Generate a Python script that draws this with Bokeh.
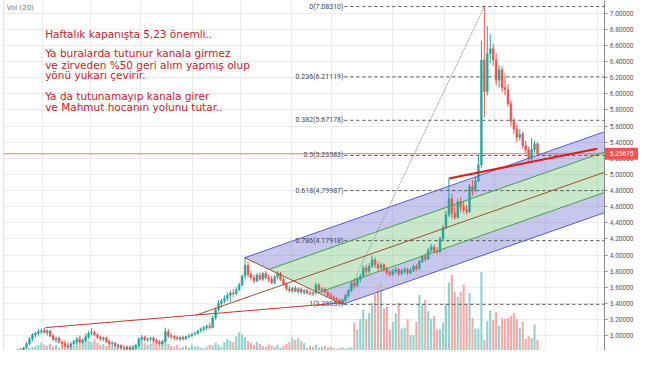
from bokeh.plotting import figure
from bokeh.models import Range1d, FixedTicker, Grid, PrintfTickFormatter, ColumnDataSource
from bokeh.core.properties import value
from bokeh.embed import file_html
from bokeh.resources import INLINE

# ---- weekly USD/TRY candles ----
opens = [2.68, 2.70, 2.72, 2.77, 2.78, 2.82, 2.80, 2.85, 2.90, 2.96,
         3.01, 3.03, 3.05, 3.06, 3.04, 3.06, 3.00, 2.95, 2.97, 2.92,
         2.90, 2.88, 2.86, 2.90, 2.93, 2.95, 2.92, 2.94, 2.98, 3.03,
         3.04, 3.01, 2.98, 2.96, 2.97, 2.93, 2.90, 2.91, 2.87, 2.88,
         2.85, 2.84, 2.86, 2.83, 2.85, 2.88, 2.96, 2.98, 2.95, 2.96,
         2.97, 2.94, 2.92, 2.90, 2.93, 3.05, 3.00, 2.99, 2.97, 2.96,
         2.98, 2.96, 2.99, 3.00, 3.02, 3.03, 3.06, 3.08, 3.10, 3.12,
         3.10, 3.22, 3.32, 3.40, 3.43, 3.46, 3.50, 3.53, 3.52, 3.57,
         3.63, 3.74, 3.87, 3.76, 3.72, 3.68, 3.75, 3.70, 3.77, 3.72,
         3.70, 3.66, 3.73, 3.77, 3.70, 3.64, 3.58, 3.56, 3.59, 3.55,
         3.58, 3.54, 3.56, 3.53, 3.52, 3.53, 3.63, 3.57, 3.58, 3.54,
         3.50, 3.48, 3.46, 3.44, 3.41, 3.44, 3.50, 3.56, 3.65, 3.62,
         3.70, 3.74, 3.84, 3.80, 3.86, 3.94, 3.88, 3.84, 3.88, 3.82,
         3.78, 3.76, 3.80, 3.82, 3.77, 3.80, 3.82, 3.78, 3.81, 3.86,
         3.83, 3.92, 3.98, 3.95, 4.06, 4.10, 4.05, 4.04, 4.20, 4.34,
         4.50, 4.70, 4.52, 4.47, 4.66, 4.60, 4.56, 4.54, 4.85, 4.80,
         4.92, 5.12, 6.42, 6.03, 6.50, 6.56, 6.42, 6.17, 6.30, 6.08,
         6.05, 5.88, 5.66, 5.56, 5.46, 5.50, 5.36, 5.30, 5.20, 5.31,
         5.38]
highs = [2.72, 2.74, 2.78, 2.80, 2.84, 2.85, 2.86, 2.92, 2.98, 3.03,
         3.05, 3.08, 3.09, 3.10, 3.08, 3.07, 3.02, 2.99, 2.99, 2.95,
         2.94, 2.92, 2.92, 2.95, 2.97, 2.98, 2.96, 3.00, 3.06, 3.09,
         3.06, 3.03, 3.00, 2.99, 2.99, 2.95, 2.93, 2.92, 2.90, 2.89,
         2.88, 2.87, 2.88, 2.87, 2.90, 2.98, 3.01, 3.00, 2.98, 2.99,
         2.99, 2.96, 2.95, 2.95, 3.10, 3.08, 3.03, 3.01, 3.00, 2.99,
         3.00, 3.00, 3.02, 3.03, 3.05, 3.07, 3.10, 3.12, 3.14, 3.16,
         3.25, 3.35, 3.44, 3.46, 3.50, 3.54, 3.56, 3.58, 3.60, 3.66,
         3.76, 3.97, 3.92, 3.80, 3.76, 3.78, 3.78, 3.79, 3.80, 3.76,
         3.74, 3.75, 3.80, 3.79, 3.73, 3.66, 3.62, 3.61, 3.62, 3.60,
         3.60, 3.58, 3.58, 3.56, 3.55, 3.66, 3.65, 3.60, 3.60, 3.56,
         3.53, 3.50, 3.48, 3.46, 3.46, 3.52, 3.58, 3.67, 3.70, 3.73,
         3.77, 3.87, 3.88, 3.90, 3.99, 3.97, 3.92, 3.91, 3.90, 3.85,
         3.81, 3.83, 3.85, 3.84, 3.83, 3.85, 3.84, 3.84, 3.88, 3.89,
         3.94, 4.00, 4.02, 4.09, 4.14, 4.13, 4.10, 4.23, 4.37, 4.55,
         4.95, 4.76, 4.62, 4.70, 4.72, 4.66, 4.62, 4.88, 4.93, 4.97,
         5.25, 6.66, 7.0831, 6.84, 6.74, 6.62, 6.50, 6.36, 6.34, 6.25,
         6.12, 5.92, 5.70, 5.62, 5.56, 5.53, 5.42, 5.34, 5.45, 5.42,
         5.40]
lows = [2.66, 2.68, 2.71, 2.74, 2.77, 2.78, 2.79, 2.84, 2.88, 2.93,
        2.97, 3.00, 3.02, 3.03, 3.00, 2.98, 2.93, 2.91, 2.90, 2.86,
        2.85, 2.84, 2.83, 2.88, 2.90, 2.91, 2.89, 2.92, 2.96, 3.00,
        2.99, 2.96, 2.94, 2.93, 2.91, 2.88, 2.86, 2.85, 2.84, 2.83,
        2.82, 2.82, 2.82, 2.81, 2.83, 2.86, 2.94, 2.93, 2.92, 2.93,
        2.92, 2.90, 2.88, 2.88, 2.92, 2.97, 2.96, 2.95, 2.94, 2.93,
        2.94, 2.95, 2.97, 2.98, 3.00, 3.01, 3.04, 3.05, 3.07, 3.08,
        3.09, 3.20, 3.30, 3.35, 3.40, 3.44, 3.42, 3.48, 3.50, 3.55,
        3.61, 3.70, 3.72, 3.68, 3.65, 3.66, 3.68, 3.68, 3.70, 3.66,
        3.64, 3.64, 3.70, 3.68, 3.62, 3.56, 3.54, 3.53, 3.54, 3.52,
        3.52, 3.51, 3.51, 3.50, 3.49, 3.51, 3.55, 3.54, 3.52, 3.48,
        3.46, 3.44, 3.42, 3.39, 3.3886, 3.42, 3.47, 3.54, 3.58, 3.60,
        3.66, 3.72, 3.76, 3.77, 3.84, 3.84, 3.80, 3.81, 3.79, 3.75,
        3.73, 3.74, 3.77, 3.74, 3.75, 3.77, 3.75, 3.76, 3.79, 3.80,
        3.82, 3.90, 3.92, 3.94, 4.03, 4.02, 4.01, 4.03, 4.18, 4.32,
        4.47, 4.45, 4.44, 4.45, 4.53, 4.52, 4.50, 4.52, 4.74, 4.78,
        4.90, 5.08, 5.71, 5.98, 6.38, 6.35, 6.10, 6.08, 6.02, 5.98,
        5.84, 5.60, 5.50, 5.40, 5.42, 5.32, 5.26, 5.14, 5.16, 5.27,
        5.23]
closes = [2.70, 2.72, 2.77, 2.78, 2.82, 2.80, 2.85, 2.90, 2.96, 3.01,
          3.03, 3.05, 3.06, 3.04, 3.06, 3.00, 2.95, 2.97, 2.92, 2.90,
          2.88, 2.86, 2.90, 2.93, 2.95, 2.92, 2.94, 2.98, 3.03, 3.04,
          3.01, 2.98, 2.96, 2.97, 2.93, 2.90, 2.91, 2.87, 2.88, 2.85,
          2.84, 2.86, 2.83, 2.85, 2.88, 2.96, 2.98, 2.95, 2.96, 2.97,
          2.94, 2.92, 2.90, 2.93, 3.05, 3.00, 2.99, 2.97, 2.96, 2.98,
          2.96, 2.99, 3.00, 3.02, 3.03, 3.06, 3.08, 3.10, 3.12, 3.10,
          3.22, 3.32, 3.40, 3.43, 3.46, 3.50, 3.53, 3.52, 3.57, 3.63,
          3.74, 3.87, 3.76, 3.72, 3.68, 3.75, 3.70, 3.77, 3.72, 3.70,
          3.66, 3.73, 3.77, 3.70, 3.64, 3.58, 3.56, 3.59, 3.55, 3.58,
          3.54, 3.56, 3.53, 3.52, 3.53, 3.63, 3.57, 3.58, 3.54, 3.50,
          3.48, 3.46, 3.44, 3.41, 3.44, 3.50, 3.56, 3.65, 3.62, 3.70,
          3.74, 3.84, 3.80, 3.86, 3.94, 3.88, 3.84, 3.88, 3.82, 3.78,
          3.76, 3.80, 3.82, 3.77, 3.80, 3.82, 3.78, 3.81, 3.86, 3.83,
          3.92, 3.98, 3.95, 4.06, 4.10, 4.05, 4.04, 4.20, 4.34, 4.50,
          4.70, 4.52, 4.47, 4.66, 4.60, 4.56, 4.54, 4.85, 4.80, 4.92,
          5.12, 6.42, 6.03, 6.50, 6.56, 6.42, 6.17, 6.30, 6.08, 6.05,
          5.88, 5.66, 5.56, 5.46, 5.50, 5.36, 5.30, 5.20, 5.31, 5.38,
          5.25675]
volumes = [40, 40, 40, 40, 40, 40, 40, 42, 43, 44,
           45, 46, 48, 46, 45, 47, 44, 46, 43, 45,
           48, 44, 43, 45, 54, 56, 52, 58, 50, 49,
           52, 48, 46, 47, 45, 46, 44, 43, 46, 45,
           44, 45, 43, 46, 45, 49, 52, 48, 46, 47,
           50, 48, 46, 49, 52, 47, 45, 44, 46, 43,
           44, 45, 43, 46, 44, 45, 43, 42, 44, 46,
           45, 48, 46, 44, 49, 52, 50, 49, 55, 59,
           57, 54, 50, 48, 46, 49, 47, 45, 44, 46,
           45, 44, 46, 43, 45, 47, 49, 53, 51, 53,
           50, 48, 43, 45, 44, 46, 43, 44, 45, 43,
           44, 43, 42, 43, 43, 42, 43, 43, 69, 62,
           73, 83, 73, 79, 90, 99, 109, 112, 84, 86,
           62, 70, 79, 90, 63, 64, 73, 56, 56, 70,
           98, 88, 93, 81, 73, 76, 62, 62, 69, 89,
           111, 119, 101, 96, 101, 109, 89, 100, 74, 63,
           63, 122, 51, 71, 82, 72, 80, 66, 74, 73,
           74, 76, 79, 73, 64, 70, 52, 55, 53, 67,
           51]
last_price = 5.25675

# axis ticks
price_ticks = [2.8, 3.0, 3.2, 3.4, 3.6, 3.8, 4.0, 4.2, 4.4, 4.6, 4.8,
               5.0, 5.2, 5.4, 5.6, 5.8, 6.0, 6.2, 6.4, 6.6, 6.8, 7.0]
time_grid = [12.3, 28.7, 45.7, 63.1, 79.5, 96.6, 110.3, 131.0, 148.4, 165.4, 182.8, 200.2]

# Fibonacci retracement (low -> high)
fib_ratio = ["0", "0.236", "0.382", "0.5", "0.618", "0.786", "1"]
fib_price = [7.08310, 6.21119, 5.67178, 5.23583, 4.79987, 4.17918, 3.38855]
fib_anchor_i = [114.0, 162.0]
fib_anchor_p = [3.38855, 7.08310]

# Andrews pitchfork anchors A, B, C (bar index, price)
pf_i = [64.43, 80.82, 114.0]
pf_p = [3.255, 3.967, 3.3886]

# trend lines
tl_i = [13.5, 114.6]
tl_p = [3.10, 3.41]
rl_i = [150.0, 200.2]
rl_p = [4.951, 5.32]

notes = ["Haftalık kapanışta 5,23 önemli..",
         "Ya buralarda tutunur kanala girmez",
         "ve zirveden %50 geri alım yapmış olup",
         "yönü yukarı çevirir.",
         "Ya da tutunamayıp kanala girer",
         "ve Mahmut hocanın yolunu tutar.."]
notes_i = [13.3] * 6
notes_p = [6.743, 6.505, 6.363, 6.232, 5.972, 5.841]

UP = "#26a69a"
DOWN = "#ef5350"
UP_V = "#93d2cc"
DOWN_V = "#f7a9a8"

X0 = -0.8     # left edge of the chart
XR = 202.8    # price-scale line (right edge of chart area)
XE = 214.2    # right edge of canvas (price-scale labels live between XR and XE)

p = figure(width=638, height=350, x_range=Range1d(X0, XE), y_range=Range1d(2.816, 7.158),
           output_backend="svg", toolbar_location=None,
           x_axis_location=None, y_axis_location="right",
           min_border_left=3, min_border_right=0, min_border_top=0, min_border_bottom=0)
p.extra_y_ranges = {"vol": Range1d(40, 406)}
p.outline_line_color = None
p.background_fill_color = "white"
for g in p.grid:
    g.visible = False
p.add_layout(Grid(dimension=0, ticker=FixedTicker(ticks=time_grid), grid_line_color="#ececec"))
p.add_layout(Grid(dimension=1, ticker=FixedTicker(ticks=price_ticks), grid_line_color="#ececec"))

ax = p.yaxis[0]
ax.fixed_location = XR
ax.ticker = FixedTicker(ticks=price_ticks)
ax.formatter = PrintfTickFormatter(format="%.5f")
ax.major_label_text_font_size = "6.5px"
ax.major_label_text_font = "Roboto"
ax.major_label_text_color = "#555555"
ax.major_tick_out = 3
ax.major_tick_in = 0
ax.minor_tick_line_color = None
ax.axis_line_color = "#8a8a8a"
ax.major_tick_line_color = "#8a8a8a"
ax.major_label_standoff = 2

# white price-scale background (hides grid there) and left border
p.quad(left=[XR], right=[XE], bottom=[2.0], top=[8.0], fill_color="white", line_color=None)
p.line([X0 + 0.05, X0 + 0.05], [2.0, 8.0], line_color="#c8c8c8", line_width=1)

# pitchfork geometry
A = (pf_i[0], pf_p[0]); B = (pf_i[1], pf_p[1]); C = (pf_i[2], pf_p[2])
M = ((B[0] + C[0]) / 2, (B[1] + C[1]) / 2)
slope = (M[1] - A[1]) / (M[0] - A[0])
def pt_on(frac):
    return (M[0] + frac * (B[0] - M[0]), M[1] + frac * (B[1] - M[1]))
def end_of(pt):
    return (XR, pt[1] + slope * (XR - pt[0]))
Bu = pt_on(1.0); Bh = pt_on(0.5); Cl = pt_on(-1.0); Ch = pt_on(-0.5)
def band(p1, p2):
    e1 = end_of(p1); e2 = end_of(p2)
    return [p1[0], e1[0], e2[0], p2[0]], [p1[1], e1[1], e2[1], p2[1]]
xs1, ys1 = band(Bu, Bh)
xs2, ys2 = band(Bh, Ch)
xs3, ys3 = band(Ch, Cl)
p.patches([xs1, xs3], [ys1, ys3], fill_color="#5050c8", fill_alpha=0.32, line_color=None)
p.patch(xs2, ys2, fill_color="#4caf50", fill_alpha=0.30, line_color=None)

# volume
idx = list(range(len(opens)))
up = [c >= o for o, c in zip(opens, closes)]
src = ColumnDataSource(dict(
    x=idx, o=opens, h=highs, l=lows, c=closes, v=volumes,
    top=[max(o, c) for o, c in zip(opens, closes)],
    bot=[min(o, c) for o, c in zip(opens, closes)],
    col=[UP if u else DOWN for u in up],
    vcol=[UP_V if u else DOWN_V for u in up]))
p.vbar(x="x", top="v", bottom=0, width=0.72, fill_color="vcol", line_color=None,
       y_range_name="vol", source=src)

# fib lines
for lvl in fib_price:
    p.line([114.6, XR], [lvl, lvl], line_color="#555555", line_dash="3 3", line_width=1)
p.line(fib_anchor_i, fib_anchor_p, line_color="#a0a0a0", line_width=1, line_dash="2 1")
p.text(x=[114.3] * len(fib_price), y=fib_price,
       text=[f"{r}({v:.5f})" for r, v in zip(fib_ratio, fib_price)],
       text_font=value("Roboto"), text_font_size="7px", text_color="#444444",
       text_align="right", text_baseline="middle")

# last price line
p.line([X0, XR], [last_price, last_price], line_color="#ef5350", line_width=1, line_alpha=0.8)

# candles
p.segment(x0="x", y0="h", x1="x", y1="l", line_color="col", line_width=1, source=src)
p.vbar(x="x", top="top", bottom="bot", width=0.62, fill_color="col", line_color="col",
       line_width=0.5, source=src)

# pitchfork lines
for pt, colr in [(Bu, "#5a5ad0"), (Cl, "#5a5ad0"), (Bh, "#43a047"), (Ch, "#43a047")]:
    e = end_of(pt)
    p.line([pt[0], e[0]], [pt[1], e[1]], line_color=colr, line_width=1)
eM = end_of(M)
p.line([A[0], eM[0]], [A[1], eM[1]], line_color="#a0522d", line_width=1)
p.line([B[0], C[0]], [B[1], C[1]], line_color="#a0522d", line_width=1)

# trend lines
p.line(tl_i, tl_p, line_color="#c0392b", line_width=1)
p.line(rl_i, rl_p, line_color="#e01b1b", line_width=2)

# annotations
p.text(x=notes_i, y=notes_p, text=notes, text_font=value("DejaVu Sans"),
       text_font_size="10.5px", text_color="#d0191e", text_baseline="middle")
p.text(x=[0.3], y=[7.07], text=["Vol (20)"], text_font=value("DejaVu Sans"),
       text_font_size="7px", text_color="#777777", text_baseline="middle")

# last-price tag on the price scale
tag = p.rect(x=[(XR + XE) / 2], y=[last_price], width=[XE - XR], height=[12],
             height_units="screen", fill_color="#ef5350", line_color=None)
tag.level = "overlay"
tagt = p.text(x=[(XR + XE) / 2], y=[last_price], text=[f"{last_price:.5f}"],
              text_font=value("Roboto"), text_font_size="6.5px", text_color="white",
              text_align="center", text_baseline="middle")
tagt.level = "overlay"

open("out.html", "w").write(file_html(p, INLINE))
